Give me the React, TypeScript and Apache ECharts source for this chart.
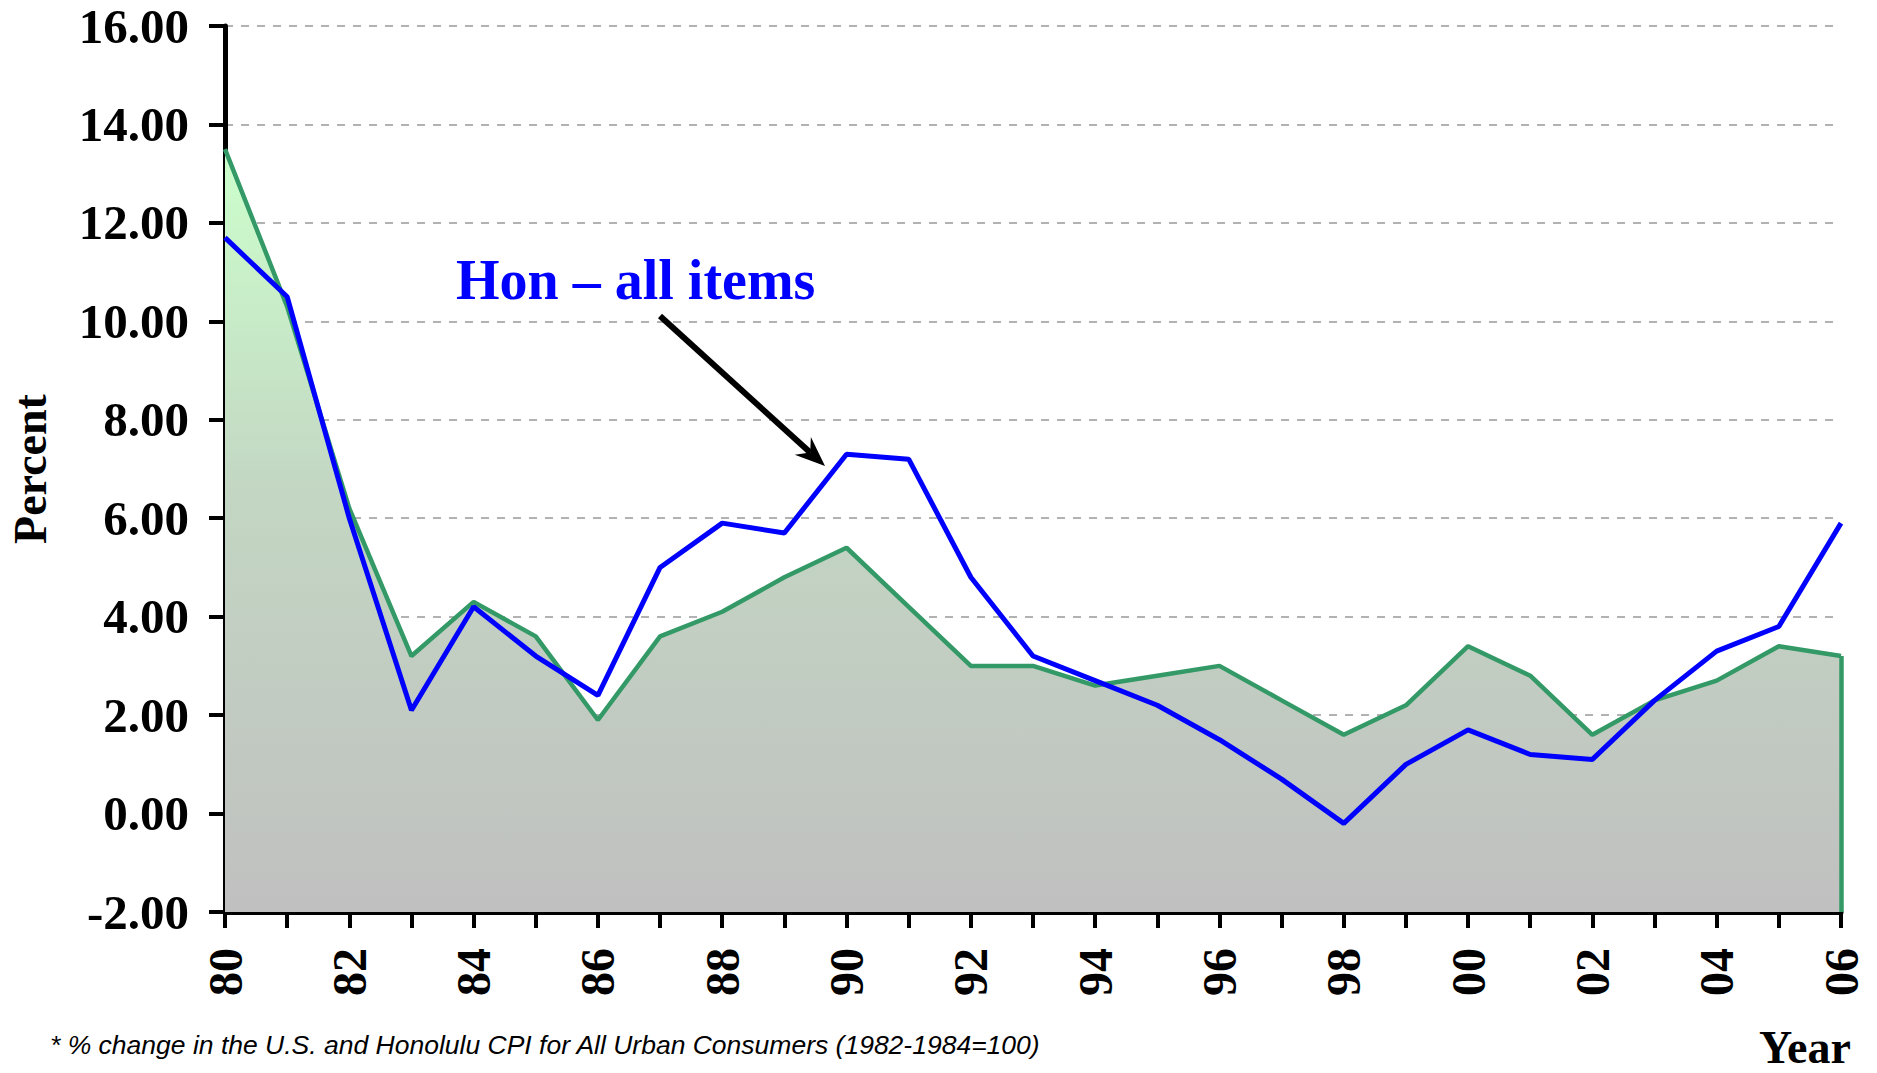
import React, { useEffect, useRef } from "react";
import * as echarts from "echarts";

const years = ["80","81","82","83","84","85","86","87","88","89","90","91","92","93","94","95","96","97","98","99","00","01","02","03","04","05","06"];
const usAll = [13.5,10.3,6.2,3.2,4.3,3.6,1.9,3.6,4.1,4.8,5.4,4.2,3.0,3.0,2.6,2.8,3.0,2.3,1.6,2.2,3.4,2.8,1.6,2.3,2.7,3.4,3.2];
const honAll = [11.7,10.5,6.0,2.1,4.2,3.2,2.4,5.0,5.9,5.7,7.3,7.2,4.8,3.2,2.7,2.2,1.5,0.7,-0.2,1.0,1.7,1.2,1.1,2.3,3.3,3.8,5.9];
const yMin = -2;
const yMax = 16;
const yStep = 2;

const SERIF = '"Liberation Serif", "Times New Roman", serif';

export default function App() {
  const ref = useRef<HTMLDivElement>(null);
  useEffect(() => {
    if (!ref.current) return;
    const chart = echarts.init(ref.current, null, { renderer: "svg" });
    const lastIdx = years.length - 1;
    const tip = [825, 466];
    const dir = [0.74, 0.673];
    const perp = [-0.673, 0.74];
    const hl = 30, hw = 12, notch = 20;
    const base = [tip[0] - hl * dir[0], tip[1] - hl * dir[1]];
    const w1 = [base[0] + hw * perp[0], base[1] + hw * perp[1]];
    const w2 = [base[0] - hw * perp[0], base[1] - hw * perp[1]];
    const nt = [tip[0] - notch * dir[0], tip[1] - notch * dir[1]];
    chart.setOption({
      animation: false,
      backgroundColor: "#ffffff",
      grid: { left: 225, right: 36, top: 26, bottom: 161, containLabel: false },
      xAxis: {
        type: "category",
        data: years,
        boundaryGap: false,
        axisLine: { show: true, onZero: false, lineStyle: { color: "#000", width: 5 } },
        axisTick: { show: true, interval: 0, length: 16, lineStyle: { color: "#000", width: 4 } },
        axisLabel: {
          interval: 1,
          rotate: 90,
          margin: 36,
          color: "#000",
          fontFamily: SERIF,
          fontWeight: "bold",
          fontSize: 48,
        },
        splitLine: { show: false },
      },
      yAxis: {
        type: "value",
        min: yMin,
        max: yMax,
        interval: yStep,
        axisLine: { show: true, lineStyle: { color: "#000", width: 5 } },
        axisTick: { show: true, length: 16, lineStyle: { color: "#000", width: 4 } },
        axisLabel: {
          margin: 36,
          color: "#000",
          fontFamily: SERIF,
          fontWeight: "bold",
          fontSize: 49,
          formatter: (v: number) => v.toFixed(2),
        },
        splitLine: { show: true, lineStyle: { color: "#999999", width: 1.5, type: [8, 8] } },
      },
      series: [
        {
          name: "US - all items",
          type: "line",
          data: usAll,
          showSymbol: false,
          symbol: "none",
          lineStyle: { color: "#339966", width: 4.5 },
          areaStyle: {
            origin: "start",
            opacity: 1,
            color: new echarts.graphic.LinearGradient(0, 0, 0, 1, [
              { offset: 0, color: "#ccffcc" },
              { offset: 0.45, color: "#c3d6c3" },
              { offset: 1, color: "#c0c0c0" },
            ]),
          },
          markLine: {
            silent: true,
            symbol: "none",
            label: { show: false },
            lineStyle: { color: "#339966", width: 4.5, type: "solid" },
            data: [[{ coord: [years[lastIdx], usAll[lastIdx]] }, { coord: [years[lastIdx], yMin] }]],
          },
          z: 2,
        },
        {
          name: "Hon - all items",
          type: "line",
          data: honAll,
          showSymbol: false,
          symbol: "none",
          lineStyle: { color: "#0000ff", width: 5 },
          z: 3,
        },
      ],
      graphic: [
        {
          type: "text",
          x: 30,
          y: 469,
          rotation: Math.PI / 2,
          style: { text: "Percent", align: "center", verticalAlign: "middle", fill: "#000", fontFamily: SERIF, fontWeight: "bold", fontSize: 46 },
        },
        {
          type: "text",
          x: 1759,
          y: 1070,
          style: { text: "Year", align: "left", verticalAlign: "bottom", fill: "#000", fontFamily: SERIF, fontWeight: "bold", fontSize: 46 },
        },
        {
          type: "text",
          x: 456,
          y: 280,
          style: { text: "Hon \u2013 all items", align: "left", verticalAlign: "middle", fill: "#0000ff", fontFamily: SERIF, fontWeight: "bold", fontSize: 56 },
        },
        {
          type: "text",
          x: 649,
          y: 765,
          style: { text: "US - all items", align: "left", verticalAlign: "middle", fill: "#000", fontFamily: SERIF, fontWeight: "bold", fontSize: 56 },
        },
        {
          type: "text",
          x: 50,
          y: 1045,
          style: {
            text: "* % change in the U.S. and Honolulu CPI for All Urban Consumers (1982-1984=100)",
            align: "left",
            verticalAlign: "middle",
            fill: "#000",
            fontFamily: '"Liberation Sans", Arial, sans-serif',
            fontStyle: "italic",
            fontSize: 26.5,
          },
        },
        {
          type: "line",
          shape: { x1: 660, y1: 316, x2: nt[0], y2: nt[1] },
          style: { stroke: "#000", lineWidth: 6 },
          z: 10,
        },
        {
          type: "polygon",
          shape: { points: [tip, w1, nt, w2] },
          style: { fill: "#000" },
          z: 10,
        },
      ],
    });
    return () => chart.dispose();
  }, []);
  return <div ref={ref} style={{ position: "fixed", left: 0, top: 0, width: 1877, height: 1073 }} />;
}
